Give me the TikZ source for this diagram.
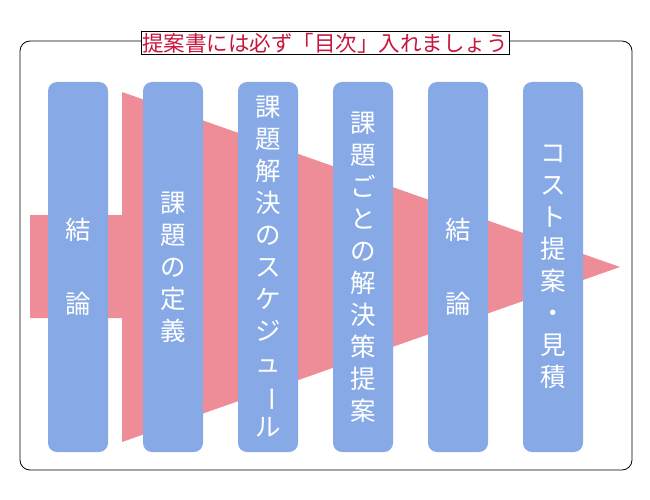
\documentclass[tikz,border=0pt]{standalone}
\usepackage{fontspec}
\setmainfont{Noto Sans CJK JP}
\usepackage{xcolor}
\usetikzlibrary{positioning}
\definecolor{arrowpink}{HTML}{EE8C98}
\definecolor{colblue}{HTML}{87AAE6}
\definecolor{titlered}{HTML}{C8163C}
\newcommand{\vbar}{\rotatebox[origin=c]{-90}{ー}}
\begin{document}
\begin{tikzpicture}[x=1pt,y=-1pt,
    colbox/.style={draw=none, fill=colblue, rounded corners=9pt, minimum width=60pt, minimum height=370pt},
    coltext/.style={text=white, align=center, font=\fontsize{25.5}{32}\selectfont},
    titlebox/.style={draw=black, fill=white, inner sep=1.5pt, text=titlered, font=\fontsize{21.5}{24}\selectfont}]
    \useasboundingbox (0,0) rectangle (650,500);
    %Frame
    \draw[rounded corners=10pt, thick] (20,41) rectangle (632,470);
    \node[titlebox](title) at (325,43){提案書には必ず「目次」入れましょう};
    %Arrow
    \fill[arrowpink] (30,215) -- (122,215) -- (122,92) -- (620,267) -- (122,442) -- (122,318) -- (30,318) -- cycle;
    %Columns
    \foreach \i/\x/\txt in {1/78/{結\\[42pt]論},
                            2/173/{課\\題\\の\\定\\義},
                            3/268/{課\\題\\解\\決\\の\\ス\\ケ\\ジ\\ュ\\\vbar\\ル},
                            4/363/{課\\題\\ご\\と\\の\\解\\決\\策\\提\\案},
                            5/458/{結\\[42pt]論},
                            6/553/{コ\\ス\\ト\\提\\案\\・\\見\\積}}{
        \node[colbox](col_\i) at (\x,267){};
        \node[coltext](coltext_\i) at (col_\i.center){\txt};
    }
\end{tikzpicture}
\end{document}
